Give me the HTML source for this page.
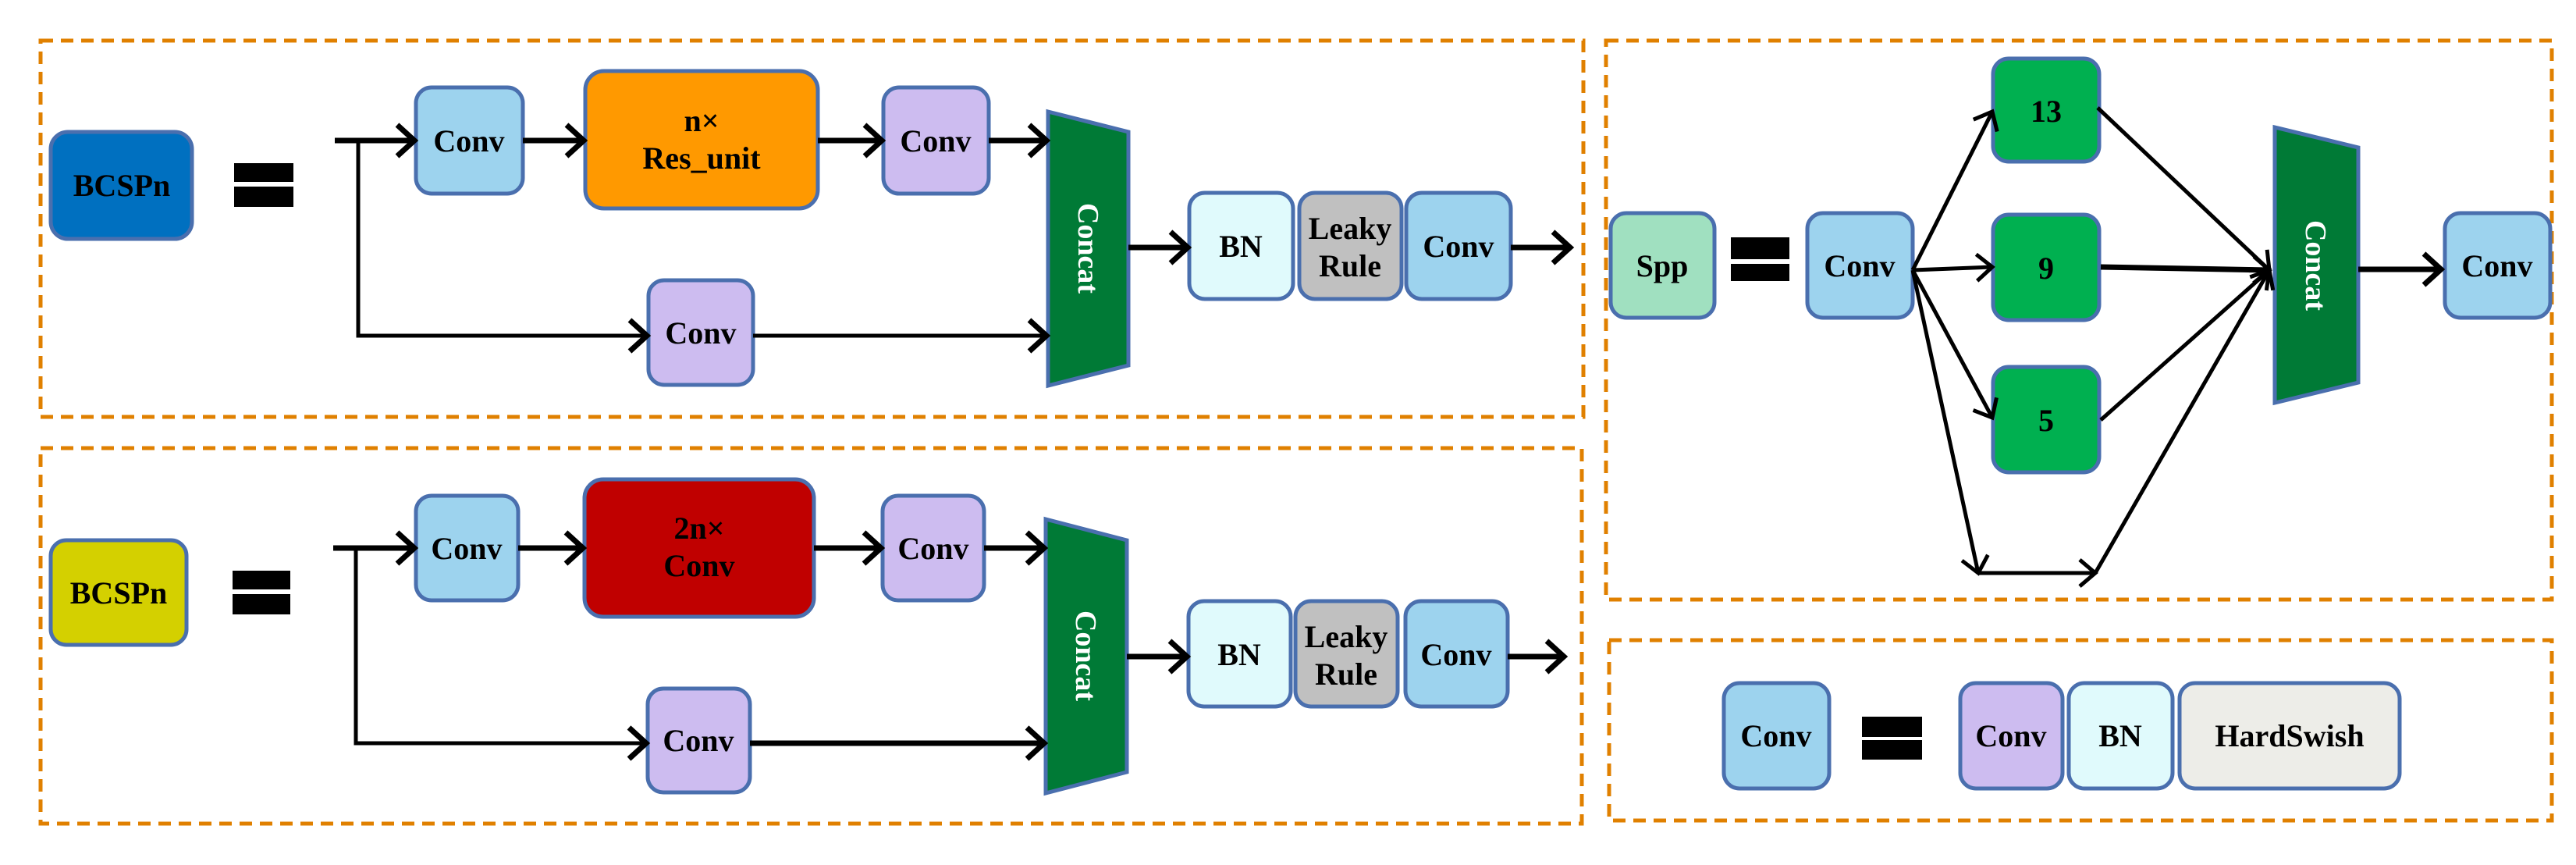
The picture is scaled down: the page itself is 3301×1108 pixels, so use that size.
<!DOCTYPE html>
<html><head><meta charset="utf-8"><style>
html,body{margin:0;padding:0;background:#fff;}
svg{display:block;}
text{font-family:"Liberation Serif",serif;font-weight:bold;fill:#000;}
</style></head><body>
<svg width="3301" height="1108" viewBox="0 0 3301 1108" xmlns="http://www.w3.org/2000/svg">
<defs>
<marker id="ah" markerUnits="userSpaceOnUse" markerWidth="40" markerHeight="50" refX="30" refY="25" orient="auto">
<polyline points="8,5 30,25 8,45" fill="none" stroke="#000" stroke-width="7"/>
</marker>
<marker id="ah2" markerUnits="userSpaceOnUse" markerWidth="40" markerHeight="50" refX="30" refY="25" orient="auto">
<polyline points="10,8 30,25 10,42" fill="none" stroke="#000" stroke-width="5"/>
</marker>
</defs>
<g fill="none" stroke="#E08000" stroke-width="5" stroke-dasharray="16 10">
<rect x="52" y="52" width="1977" height="482"/>
<rect x="52" y="574" width="1975" height="481"/>
<rect x="2058" y="52" width="1212" height="716"/>
<rect x="2062" y="820" width="1208" height="231"/>
</g>
<g stroke="#4A6FAE" stroke-width="5">
<!-- Box 1 -->
<rect x="65" y="169" width="181" height="137" rx="22" fill="#0070C0"/>
<rect x="533" y="112" width="137" height="136" rx="20" fill="#9DD3EE"/>
<rect x="750" y="91" width="298" height="176" rx="24" fill="#FF9900"/>
<rect x="1132" y="112" width="135" height="136" rx="20" fill="#CDBCF0"/>
<rect x="831" y="359" width="134" height="134" rx="20" fill="#CDBCF0"/>
<polygon points="1343,143 1446,169 1446,468 1343,494" fill="#007A36"/>
<rect x="1524" y="247" width="133" height="136" rx="20" fill="#E0FAFC"/>
<rect x="1665" y="247" width="131" height="136" rx="20" fill="#C0C0C0"/>
<rect x="1802" y="247" width="134" height="136" rx="20" fill="#9DD3EE"/>
<!-- Box 2 -->
<rect x="65" y="692" width="174" height="134" rx="20" fill="#D4D000"/>
<rect x="533" y="635" width="131" height="134" rx="20" fill="#9DD3EE"/>
<rect x="749" y="614" width="294" height="176" rx="24" fill="#C00000"/>
<rect x="1131" y="635" width="130" height="134" rx="20" fill="#CDBCF0"/>
<rect x="830" y="882" width="131" height="133" rx="20" fill="#CDBCF0"/>
<polygon points="1340,665 1444,692 1444,989 1340,1016" fill="#007A36"/>
<rect x="1523" y="770" width="131" height="135" rx="20" fill="#E0FAFC"/>
<rect x="1660" y="770" width="131" height="135" rx="20" fill="#C0C0C0"/>
<rect x="1801" y="770" width="131" height="135" rx="20" fill="#9DD3EE"/>
<!-- Spp -->
<rect x="2064" y="273" width="133" height="134" rx="20" fill="#A0E0C0"/>
<rect x="2316" y="273" width="135" height="134" rx="20" fill="#9DD3EE"/>
<rect x="2554" y="75" width="136" height="132" rx="20" fill="#00B050"/>
<rect x="2554" y="275" width="136" height="135" rx="20" fill="#00B050"/>
<rect x="2554" y="470" width="136" height="135" rx="20" fill="#00B050"/>
<polygon points="2915,163 3022,189 3022,490 2915,516" fill="#007A36"/>
<rect x="3133" y="273" width="135" height="134" rx="20" fill="#9DD3EE"/>
<!-- Conv def -->
<rect x="2209" y="875" width="135" height="135" rx="20" fill="#9DD3EE"/>
<rect x="2512" y="875" width="131" height="135" rx="20" fill="#CDBCF0"/>
<rect x="2651" y="875" width="133" height="135" rx="20" fill="#E0FAFC"/>
<rect x="2793" y="875" width="282" height="135" rx="20" fill="#EDEDE8"/>
</g>
<!-- equals -->
<g fill="#000">
<rect x="300" y="209" width="76" height="24"/><rect x="300" y="239" width="76" height="26"/>
<rect x="298" y="731" width="74" height="24"/><rect x="298" y="761" width="74" height="26"/>
<rect x="2218" y="304" width="75" height="28"/><rect x="2218" y="338" width="75" height="22"/>
<rect x="2386" y="918" width="77" height="26"/><rect x="2386" y="948" width="77" height="25"/>
</g>
<!-- connectors box 1 -->
<g fill="none" stroke="#000" stroke-width="7">
<line x1="429" y1="180" x2="531" y2="180" marker-end="url(#ah)"/>
<polyline points="459,180 459,430 829,430" stroke-width="5" marker-end="url(#ah)"/>
<line x1="670" y1="180" x2="748" y2="180" marker-end="url(#ah)"/>
<line x1="1048" y1="180" x2="1130" y2="180" marker-end="url(#ah)"/>
<line x1="1267" y1="180" x2="1341" y2="180" marker-end="url(#ah)"/>
<line x1="965" y1="430" x2="1341" y2="430" stroke-width="5" marker-end="url(#ah)"/>
<line x1="1446" y1="317" x2="1522" y2="317" marker-end="url(#ah)"/>
<line x1="1936" y1="317" x2="2012" y2="317" marker-end="url(#ah)"/>
<!-- box 2 -->
<line x1="427" y1="702" x2="531" y2="702" marker-end="url(#ah)"/>
<polyline points="456,702 456,952 828,952" stroke-width="5" marker-end="url(#ah)"/>
<line x1="664" y1="702" x2="747" y2="702" marker-end="url(#ah)"/>
<line x1="1043" y1="702" x2="1129" y2="702" marker-end="url(#ah)"/>
<line x1="1261" y1="702" x2="1338" y2="702" marker-end="url(#ah)"/>
<line x1="961" y1="952" x2="1338" y2="952" marker-end="url(#ah)"/>
<line x1="1444" y1="841" x2="1521" y2="841" marker-end="url(#ah)"/>
<line x1="1932" y1="841" x2="2004" y2="841" marker-end="url(#ah)"/>
<!-- spp -->
<g stroke-width="5">
<line x1="2451" y1="346" x2="2553" y2="143" marker-end="url(#ah2)"/>
<line x1="2451" y1="346" x2="2553" y2="342" marker-end="url(#ah2)"/>
<line x1="2451" y1="346" x2="2553" y2="535" marker-end="url(#ah2)"/>
<line x1="2451" y1="346" x2="2535" y2="734" marker-end="url(#ah2)"/>
<line x1="2535" y1="734" x2="2685" y2="734" marker-end="url(#ah2)"/>
<line x1="2688" y1="138" x2="2908" y2="346" marker-end="url(#ah2)"/>
<line x1="2692" y1="342" x2="2908" y2="346" stroke-width="7" marker-end="url(#ah2)"/>
<line x1="2692" y1="538" x2="2908" y2="346" marker-end="url(#ah2)"/>
<line x1="2685" y1="734" x2="2908" y2="346" marker-end="url(#ah2)"/>
</g>
<line x1="3022" y1="345" x2="3128" y2="345" marker-end="url(#ah)"/>
</g>
<!-- labels -->
<g font-size="40" text-anchor="middle">
<text x="156" y="251">BCSPn</text>
<text x="601" y="194">Conv</text>
<text x="899" y="168">n×</text>
<text x="899" y="216">Res_unit</text>
<text x="1199" y="194">Conv</text>
<text x="898" y="440">Conv</text>
<text x="1590" y="329">BN</text>
<text x="1730" y="306">Leaky</text>
<text x="1730" y="354">Rule</text>
<text x="1869" y="329">Conv</text>

<text x="152" y="773">BCSPn</text>
<text x="598" y="716">Conv</text>
<text x="896" y="690">2n×</text>
<text x="896" y="738">Conv</text>
<text x="1196" y="716">Conv</text>
<text x="895" y="962">Conv</text>
<text x="1588" y="852">BN</text>
<text x="1725" y="829">Leaky</text>
<text x="1725" y="877">Rule</text>
<text x="1866" y="852">Conv</text>

<text x="2130" y="354">Spp</text>
<text x="2383" y="354">Conv</text>
<text x="2622" y="156">13</text>
<text x="2622" y="357">9</text>
<text x="2622" y="552">5</text>
<text x="3200" y="354">Conv</text>

<text x="2276" y="956">Conv</text>
<text x="2577" y="956">Conv</text>
<text x="2717" y="956">BN</text>
<text x="2934" y="956">HardSwish</text>
</g>
<g font-size="38" text-anchor="middle" style="fill:#fff">
<text transform="translate(1382,318) rotate(90)" style="fill:#fff">Concat</text>
<text transform="translate(1379,840) rotate(90)" style="fill:#fff">Concat</text>
<text transform="translate(2955,340) rotate(90)" style="fill:#fff">Concat</text>
</g>
</svg>
</body></html>
